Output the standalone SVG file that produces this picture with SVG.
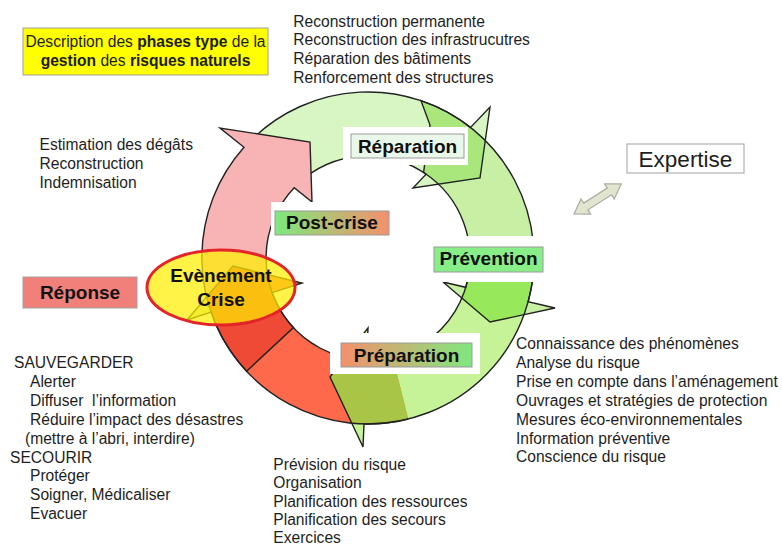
<svg xmlns="http://www.w3.org/2000/svg" width="782" height="546" viewBox="0 0 782 546">
<style>
.t{font-family:"Liberation Sans",Arial,sans-serif;font-size:15.6px;fill:#1e1e1e}
.b{font-family:"Liberation Sans",Arial,sans-serif;font-size:19px;font-weight:bold;fill:#111;text-anchor:middle}
.ol{fill:none;stroke:#222;stroke-width:1.4;stroke-linejoin:miter}
.lbl{stroke:#9a9a9a;stroke-width:1}
.wh{fill:#fff}
</style>
<defs>
<path id="rep" d="M252.7 138.6 A166 166 0 0 1 470.6 127.4 L490 107 L480 178 L413 188 L426.1 174.2 A102 102 0 0 0 297.1 184.6 Z"/>
<path id="prev" d="M421 100.7 A166 166 0 0 1 528.1 301.8 L555 308 L490 322 L443 282 L465.7 287.3 A102 102 0 0 0 423.6 172.5 L430 125 Z"/>
<path id="prep" d="M533.8 249.3 A166 166 0 0 1 364 423.9 L363 447 L330 377 L368 328 L366.7 360 A102 102 0 0 0 469.9 252.7 Z"/>
<path id="red" d="M408.2 419.1 A166 166 0 0 1 211.1 312.2 L187 320 L233 266 L302 283 L272.1 292.6 A102 102 0 0 0 392.7 357 Z"/>
<path id="pink" d="M246.6 371.2 A166 166 0 0 1 244 147.3 L220 128 L310 142 L312 202 L294.2 187.7 A102 102 0 0 0 293.4 327.6 Z"/>
<clipPath id="cPrev"><use href="#prev"/></clipPath>
<clipPath id="cPrep"><use href="#prep"/></clipPath>
<clipPath id="cRed"><use href="#red"/></clipPath>
<clipPath id="cPink"><use href="#pink"/></clipPath>
<clipPath id="cNotPink"><path clip-rule="evenodd" d="M0 0H782V546H0Z M246.6 371.2 A166 166 0 0 1 244 147.3 L220 128 L310 142 L312 202 L294.2 187.7 A102 102 0 0 0 293.4 327.6 Z"/></clipPath>
<linearGradient id="gPost" x1="0" y1="0" x2="1" y2="0"><stop offset="0" stop-color="#7ee87e"/><stop offset="1" stop-color="#f4906c"/></linearGradient>
<linearGradient id="gPrep" x1="0" y1="0" x2="1" y2="0"><stop offset="0" stop-color="#f4906c"/><stop offset="1" stop-color="#80e880"/></linearGradient>
</defs>

<g id="cycle-arrows">
<use href="#rep" fill="#d8f5c4"/>
<use href="#pink" fill="#f8b4b4"/>
<use href="#prev" fill="#c8f0a4"/>
<use href="#prep" fill="#c6f398"/>
<use href="#red" fill="#ff694b"/>
<use href="#rep" fill="#a9e67b" clip-path="url(#cPrev)"/>
<use href="#prev" fill="#97e85b" clip-path="url(#cPrep)"/>
<use href="#prep" fill="#a9c545" clip-path="url(#cRed)"/>
<use href="#red" fill="#ef4a36" clip-path="url(#cPink)"/>
<path d="M206.7 296.9 L187 320 L211.1 312.2 A166 166 0 0 1 206.7 296.9 Z" fill="#d4ec9a"/>
<use href="#rep" class="ol" clip-path="url(#cNotPink)"/>
<use href="#prev" class="ol"/>
<use href="#prep" class="ol"/>
<path class="ol" d="M408.2 419.1 A166 166 0 0 1 211.1 312.2 L187 320 L233 266 L302 283 L272.1 292.6 A102 102 0 0 0 392.7 357"/>
<use href="#pink" class="ol"/>
</g>

<g id="evenement-crise">
<ellipse cx="221" cy="287.5" rx="74" ry="37.5" fill="#ffee00" fill-opacity="0.72" stroke="#e3242b" stroke-width="3"/>
<text class="b" x="221" y="281.5">Evènement</text>
<text class="b" x="221" y="306">Crise</text>
</g>

<g id="reparation">
<rect class="wh" x="343" y="127" width="125" height="38"/>
<rect class="lbl" x="351" y="134" width="113" height="24" fill="#eaf8ea"/>
<text class="b" x="407.5" y="152.5">Réparation</text>
</g>

<g id="post-crise">
<rect class="wh" x="271" y="202" width="122" height="38"/>
<rect class="lbl" x="275" y="211" width="114" height="24" fill="url(#gPost)"/>
<text class="b" x="332" y="228.8">Post-crise</text>
</g>

<g id="prevention">
<rect class="wh" x="428" y="236" width="118" height="46"/>
<rect class="lbl" x="434" y="247" width="109" height="25" fill="#88ee88"/>
<text class="b" x="488.5" y="265">Prévention</text>
</g>

<g id="preparation">
<rect class="wh" x="330" y="333" width="150" height="41"/>
<rect class="lbl" x="341" y="343" width="131" height="24" fill="url(#gPrep)"/>
<text class="b" x="406.5" y="361.5">Préparation</text>
</g>

<g id="reponse">
<rect x="23" y="277" width="114" height="31" fill="#f2807a" stroke="#a0a0a0" stroke-width="1"/>
<text class="b" x="80" y="299">Réponse</text>
</g>

<g id="titre">
<rect x="23" y="28" width="245" height="47" fill="#ffff00" stroke="#a0a0a0" stroke-width="1"/>
<text class="t" x="145.5" y="47" text-anchor="middle">Description des <tspan font-weight="bold">phases type</tspan> de la</text>
<text class="t" x="145.5" y="65.5" text-anchor="middle"><tspan font-weight="bold">gestion</tspan> des <tspan font-weight="bold">risques naturels</tspan></text>
</g>

<g id="expertise">
<rect x="627" y="144" width="117" height="29" fill="#fff" stroke="#a0a0a0" stroke-width="1"/>
<text x="685.5" y="167" text-anchor="middle" font-family="Liberation Sans, Arial, sans-serif" font-size="22.5" fill="#1e1e1e">Expertise</text>
</g>

<g id="link-expertise" transform="translate(574,214) rotate(-32.5)">
<polygon points="0,0 14,-9 14,-4 42,-4 42,-9 56,0 42,9 42,4 14,4 14,9" fill="#e1e5cd" stroke="#a9ab9f" stroke-width="1.2"/>
</g>

<g id="texte-reparation">
<text class="t" x="293.3" y="26.5">Reconstruction permanente</text>
<text class="t" x="293.3" y="45.3">Reconstruction des infrastrucutres</text>
<text class="t" x="293.3" y="64.2">Réparation des bâtiments</text>
<text class="t" x="293.3" y="83">Renforcement des structures</text>
</g>

<g id="texte-post-crise">
<text class="t" x="39.5" y="150">Estimation des dégâts</text>
<text class="t" x="39.5" y="168.8">Reconstruction</text>
<text class="t" x="39.5" y="187.5">Indemnisation</text>
</g>

<g id="texte-reponse">
<text class="t" x="14" y="368">SAUVEGARDER</text>
<text class="t" x="30" y="387">Alerter</text>
<text class="t" x="30" y="406">Diffuser&#160; l’information</text>
<text class="t" x="30" y="424.5">Réduire l’impact des désastres</text>
<text class="t" x="25" y="443.5">(mettre à l’abri, interdire)</text>
<text class="t" x="10" y="462.5">SECOURIR</text>
<text class="t" x="30" y="481">Protéger</text>
<text class="t" x="30" y="500">Soigner, Médicaliser</text>
<text class="t" x="30" y="518.5">Evacuer</text>
</g>

<g id="texte-prevention">
<text class="t" x="516" y="349.3">Connaissance des phénomènes</text>
<text class="t" x="516" y="368.2">Analyse du risque</text>
<text class="t" x="516" y="387">Prise en compte dans l’aménagement</text>
<text class="t" x="516" y="405.8">Ouvrages et stratégies de protection</text>
<text class="t" x="516" y="424.7">Mesures éco-environnementales</text>
<text class="t" x="516" y="443.5">Information préventive</text>
<text class="t" x="516" y="462.3">Conscience du risque</text>
</g>

<g id="texte-preparation">
<text class="t" x="273.3" y="469.5">Prévision du risque</text>
<text class="t" x="273.3" y="488">Organisation</text>
<text class="t" x="273.3" y="506.5">Planification des ressources</text>
<text class="t" x="273.3" y="525">Planification des secours</text>
<text class="t" x="273.3" y="542.5">Exercices</text>
</g>
</svg>
